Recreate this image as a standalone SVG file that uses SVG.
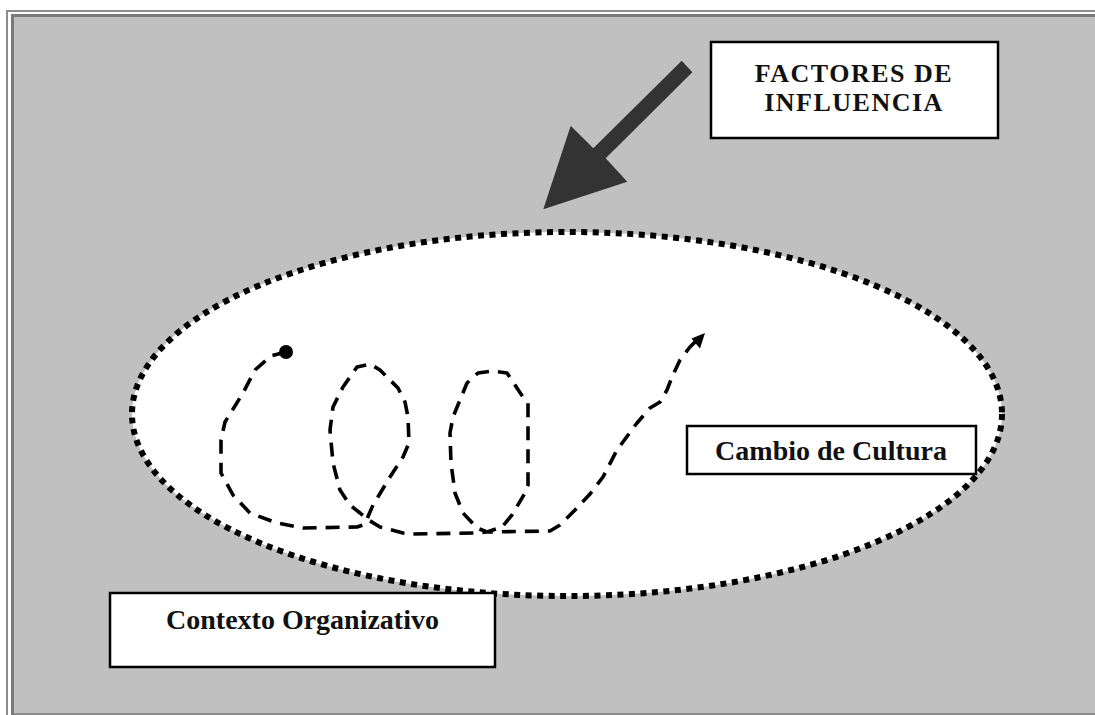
<svg xmlns="http://www.w3.org/2000/svg" width="1095" height="715" viewBox="0 0 1095 715">
  <style>
    .label { font-family: "Liberation Serif", "Times New Roman", serif; font-weight: bold; font-size: 28px; fill: #111; text-anchor: middle; }
    .title { font-size: 26px; letter-spacing: 1.5px; }
    .box { fill: #fff; stroke: #000; stroke-width: 2.5; }
    .frame-outer { stroke: #8c8c8c; stroke-width: 2; fill: none; }
    .frame-inner { stroke: #7a7a7a; stroke-width: 3; fill: none; }
    .path-dash { fill: none; stroke: #000; stroke-width: 3.6; stroke-dasharray: 14 9; stroke-linejoin: round; }
  </style>

  <!-- page and framed panel -->
  <rect x="0" y="0" width="1095" height="715" fill="#fff"/>
  <rect x="14" y="17" width="1081" height="698" fill="#c0c0c0"/>
  <g id="frame">
    <path class="frame-outer" d="M7,715 V11 H1095"/>
    <path class="frame-inner" d="M12.5,715 V15.5 H1095"/>
    <path class="frame-outer" d="M14,714 H1095"/>
  </g>

  <!-- organisational context: dotted ellipse -->
  <g id="contexto-area">
    <ellipse cx="567" cy="414" rx="435" ry="182" fill="#fff" stroke="#000" stroke-width="6" stroke-dasharray="6 5.5"/>
  </g>

  <!-- influence arrow -->
  <g id="influence-arrow">
    <polygon points="543.3,209.3 570.7,125.7 593.3,148.3 681.7,60.7 692.3,72.3 605.7,158.3 627.3,181.7" fill="#333"/>
  </g>

  <!-- culture change trajectory -->
  <g id="connectors">
    <circle cx="286" cy="352" r="7" fill="#000"/>
    <polyline class="path-dash" points="286,352 271,356 255,370 243,393 225,422 221,440 221,473 233,495 250,513 277,523 303,528 357,527 363,525 367,519 373,505 390,477 403,457 409,443 408,417 405,402 398,388 387,377 380,370 370,364 357,367 343,387 333,407 330,430 333,463 340,490 350,505 360,513 367,519 380,527 403,533 410,534 477,533 487,532 502,527 512,515 525,493 528,485 528,403 523,397 507,373 493,371 478,373 467,383 453,417 450,433 451,463 455,493 463,513 477,528 487,532 550,531 560,525 575,510 590,494 603,477 617,450 637,423 650,408 660,402 667,390 672,377 680,360 690,347 696,341"/>
    <polygon points="705,333 691.5,338.5 700,348.5" fill="#000"/>
  </g>

  <g id="factores">
    <rect class="box" x="711" y="42" width="287" height="96"/>
    <text class="label title" x="854" y="81.5">FACTORES DE</text>
    <text class="label title" x="854" y="110.5">INFLUENCIA</text>
  </g>

  <g id="cambio">
    <rect class="box" x="687" y="426" width="289" height="48"/>
    <text class="label" x="831" y="460">Cambio de Cultura</text>
  </g>

  <g id="contexto">
    <rect class="box" x="110" y="593" width="385" height="74"/>
    <text class="label" x="302.5" y="629">Contexto Organizativo</text>
  </g>
</svg>
